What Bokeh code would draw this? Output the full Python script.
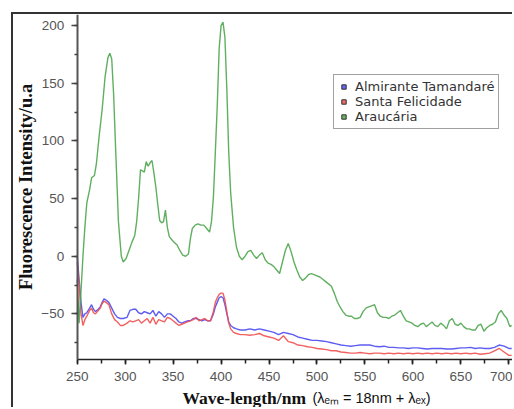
from bokeh.plotting import figure
from bokeh.models import (Range1d, SingleIntervalTicker, Legend, LegendItem, Label)
from bokeh.embed import file_html
from bokeh.resources import INLINE

# ---------------- data ----------------
wl_green = [250, 252, 254, 256, 258, 260, 263, 265, 268, 270, 273, 276, 279, 282, 284, 286, 288, 290,
            293, 296, 298, 301, 304, 307, 310, 312, 314, 316, 318, 320, 322, 324, 326, 328, 330, 332,
            334, 336, 338, 340, 342, 344, 346, 348, 351, 354, 357, 360, 363, 366, 368, 370, 373, 376,
            379, 382, 385, 388, 390, 392, 394, 396, 398, 400, 402, 404, 406, 408, 410, 413, 416, 419,
            422, 425, 428, 431, 434, 437, 440, 443, 446, 449, 452, 455, 458, 461, 464, 467, 470, 473,
            476, 479, 482, 485, 488, 491, 494, 497, 500, 503, 506, 509, 512, 515, 518, 521, 524, 527,
            530, 533, 536, 539, 542, 545, 548, 551, 554, 557, 560, 563, 566, 569, 572, 575, 578, 581,
            584, 587, 590, 593, 596, 599, 602, 605, 608, 611, 614, 617, 620, 623, 626, 629, 632, 635,
            638, 641, 644, 647, 650, 653, 656, 659, 662, 665, 668, 671, 674, 677, 680, 683, 686, 689,
            692, 695, 698, 701, 703]
araucaria = [-20, -58, -30, 0, 25, 46, 58, 68, 70, 80, 105, 127, 155, 172, 176, 171, 140, 95,
             30, 0, -5, -2, 5, 12, 18, 30, 50, 75, 74, 73, 82, 78, 81, 83, 72, 60,
             45, 31, 29, 30, 40, 25, 17, 15, 12, 10, 5, 1, 0, 2, 15, 24, 27, 28,
             27, 27, 24, 21, 30, 51, 90, 130, 180, 200, 203, 190, 145, 90, 55, 25, 8, 0,
             -3, 0, 4, 5, 1, -2, 1, 3, -3, -6, -7, -9, -12, -15, -5, 5, 11, 4,
             -5, -12, -18, -21, -19, -16, -15, -16, -17, -18, -20, -22, -24, -26, -32, -39, -44, -48,
             -51, -52, -52, -54, -54, -53, -48, -45, -44, -43, -42, -49, -52, -53, -53, -54, -52, -51,
             -49, -47, -52, -56, -57, -58, -60, -61, -59, -58, -61, -59, -57, -60, -61, -58, -60, -63,
             -56, -54, -59, -60, -58, -61, -63, -63, -64, -64, -60, -59, -65, -62, -60, -59, -57, -50,
             -47, -51, -54, -61, -60]

wl_br = [250, 252, 254, 256, 258, 260, 263, 265, 267, 269, 272, 274, 276, 278, 280, 283, 286, 289,
         292, 295, 298, 302, 305, 308, 311, 314, 317, 320, 323, 326, 329, 332, 335, 338, 341, 344,
         347, 350, 353, 356, 359, 362, 365, 368, 371, 374, 377, 380, 383, 386, 389, 392, 394, 396,
         398, 400, 402, 404, 406, 408, 410, 413, 416, 420, 425, 430, 435, 440, 445, 450, 455, 460,
         465, 470, 475, 480, 485, 490, 495, 500, 505, 510, 515, 520, 525, 530, 535, 540, 545, 550,
         555, 560, 565, 570, 575, 580, 585, 590, 595, 600, 605, 610, 615, 620, 625, 630, 635, 640,
         645, 650, 655, 660, 665, 670, 675, 680, 685, 690, 695, 700, 703]
almirante = [0, -20, -40, -53, -50, -49, -45, -42, -46, -48, -46, -44, -40, -37, -38, -40, -45, -50,
             -53, -54, -54, -53, -47, -46, -46, -49, -50, -48, -49, -50, -47, -52, -48, -50, -53, -50,
             -50, -52, -54, -57, -58, -57, -56, -56, -54, -54, -55, -56, -55, -56, -56, -50, -44, -40,
             -36, -35, -36, -42, -50, -57, -60, -62, -63, -64, -64, -63, -64, -63, -64, -65, -66, -68,
             -66, -67, -68, -70, -71, -72, -73, -73, -73.5, -74, -75, -76, -77, -77.5, -78, -77.5, -77, -77,
             -77, -78, -78.5, -78, -79, -79, -79.5, -79.5, -80, -79.5, -79.5, -80, -80.5, -80, -80, -80, -80.5, -80.5,
             -80, -79.5, -79.5, -79, -80, -79.5, -80, -80, -79, -77, -78, -80, -80]
santa = [-5, -25, -50, -60, -55, -52, -47, -45, -49, -50, -47, -45, -41, -39, -40, -42, -50, -55,
         -57, -60, -60, -58, -56, -57, -56, -55, -58, -56, -54, -58, -53, -59, -55, -56, -57, -53,
         -54, -56, -58, -60, -59, -58, -57, -56, -55, -53, -56, -55, -54, -56, -56, -48, -40, -36,
         -33, -32, -32, -38, -48, -58, -63, -66, -67, -68, -68, -68.5, -68, -67, -69, -70, -71, -73,
         -69, -74, -75, -77, -77.5, -78.5, -79, -80, -80.5, -81, -82, -82, -83, -83.5, -84, -84, -83.5, -84,
         -84.5, -84, -84, -84.5, -84, -84.5, -84, -84.5, -84, -84.5, -84, -84.5, -84, -84.5, -84, -84.5, -84, -84.5,
         -84, -84.5, -84, -84.5, -84, -85, -84.5, -84, -82, -80, -83, -86, -86]

series_names = ["Almirante Tamandaré", "Santa Felicidade", "Araucária"]
series_colors = ["#4b4bf0", "#f05050", "#4fa64f"]
x_title = "Wave-length/nm"
x_title_extra = "(λₑₘ = 18nm + λₑₓ)"
y_title = "Fluorescence Intensity/u.a"
x_axis_min, x_axis_max = 250, 705.9
y_axis_min, y_axis_max = -89.6, 209.6

# ---------------- figure ----------------
# the frame fills the whole canvas; both axes are pinned at the edges of the
# data area, so tick labels and the two-part x title lie inside the frame
p = figure(width=501, height=395, output_backend="svg", toolbar_location=None,
           x_range=Range1d(183.6, x_axis_max), y_range=Range1d(-132.9, y_axis_max),
           min_border_left=0, min_border_right=0, min_border_top=0, min_border_bottom=0)
p.margin = (12, 0, 0, 11)
p.styles = {"border-left": "2px solid #333", "border-top": "2px solid #333"}
p.outline_line_color = None
p.grid.visible = False
p.background_fill_color = "white"
p.border_fill_color = "white"

# axes
p.xaxis.ticker = SingleIntervalTicker(interval=50, num_minor_ticks=2)
p.yaxis.ticker = SingleIntervalTicker(interval=50, num_minor_ticks=2)
for ax in (p.xaxis[0], p.yaxis[0]):
    ax.major_label_text_font = "Liberation Sans"
    ax.major_label_text_font_size = "13.5px"
    ax.major_label_text_color = "#555555"
    ax.major_tick_in = 0
    ax.minor_tick_in = 0
p.xaxis.fixed_location = y_axis_min
p.xaxis.bounds = (x_axis_min, x_axis_max)
p.xaxis.axis_line_color = "#222222"
p.xaxis.axis_line_width = 1.5
p.xaxis.major_tick_line_color = "#222222"
p.xaxis.minor_tick_line_color = "#222222"
p.xaxis.major_tick_line_width = 1.5
p.xaxis.minor_tick_line_width = 1.5
p.xaxis.major_tick_out = 5
p.xaxis.minor_tick_out = 4
p.xaxis.major_label_standoff = 7

p.yaxis.fixed_location = x_axis_min
p.yaxis.bounds = (y_axis_min, y_axis_max)
p.yaxis.axis_line_color = "#555555"
p.yaxis.axis_line_width = 2
p.yaxis.major_tick_line_color = "#444444"
p.yaxis.minor_tick_line_color = "#444444"
p.yaxis.major_tick_line_width = 1.5
p.yaxis.minor_tick_line_width = 1.5
p.yaxis.major_tick_out = 6
p.yaxis.minor_tick_out = 3
p.yaxis.major_label_standoff = 7
p.yaxis.axis_label = y_title
p.yaxis.axis_label_text_font = "Liberation Serif"
p.yaxis.axis_label_text_font_style = "bold"
p.yaxis.axis_label_text_font_size = "18.5px"
p.yaxis.axis_label_text_color = "#111111"
p.yaxis.axis_label_standoff = 3

# series
r_blue = p.line(wl_br, almirante, line_color=series_colors[0], line_width=1.4, line_alpha=0.9)
r_red = p.line(wl_br, santa, line_color=series_colors[1], line_width=1.4, line_alpha=0.9)
r_green = p.line(wl_green, araucaria, line_color=series_colors[2], line_width=1.4, line_alpha=0.9)

# legend swatches (square symbols; NaN point so that nothing is drawn in the plot)
nan = float("nan")
swatches = [p.scatter([nan], [nan], marker="square", size=10, fill_color=c, fill_alpha=0.85,
                      line_color="#333333", line_width=1)
            for c in series_colors]
legend = Legend(items=[LegendItem(label=n, renderers=[s]) for n, s in zip(series_names, swatches)],
                location=(320, 280), orientation="vertical",
                label_text_font="DejaVu Sans", label_text_font_size="13px", label_text_color="#333333",
                label_height=15, glyph_height=11, glyph_width=11, label_standoff=6,
                spacing=0, padding=4, margin=0,
                border_line_color="#444444", border_line_width=1.5, background_fill_color="white",
                background_fill_alpha=1.0)
p.add_layout(legend, "center")

# x-axis title (two parts, as in the original)
p.add_layout(Label(x=169, y=12, x_units="screen", y_units="screen", text=x_title,
                   text_font="Liberation Serif", text_font_style="bold", text_font_size="17.5px",
                   text_color="#111111", text_baseline="alphabetic", text_align="left"))
p.add_layout(Label(x=299, y=12, x_units="screen", y_units="screen", text=x_title_extra,
                   text_font="Liberation Sans", text_font_size="14.5px",
                   text_color="#111111", text_baseline="alphabetic", text_align="left"))

open("out.html", "w").write(file_html(p, INLINE))
